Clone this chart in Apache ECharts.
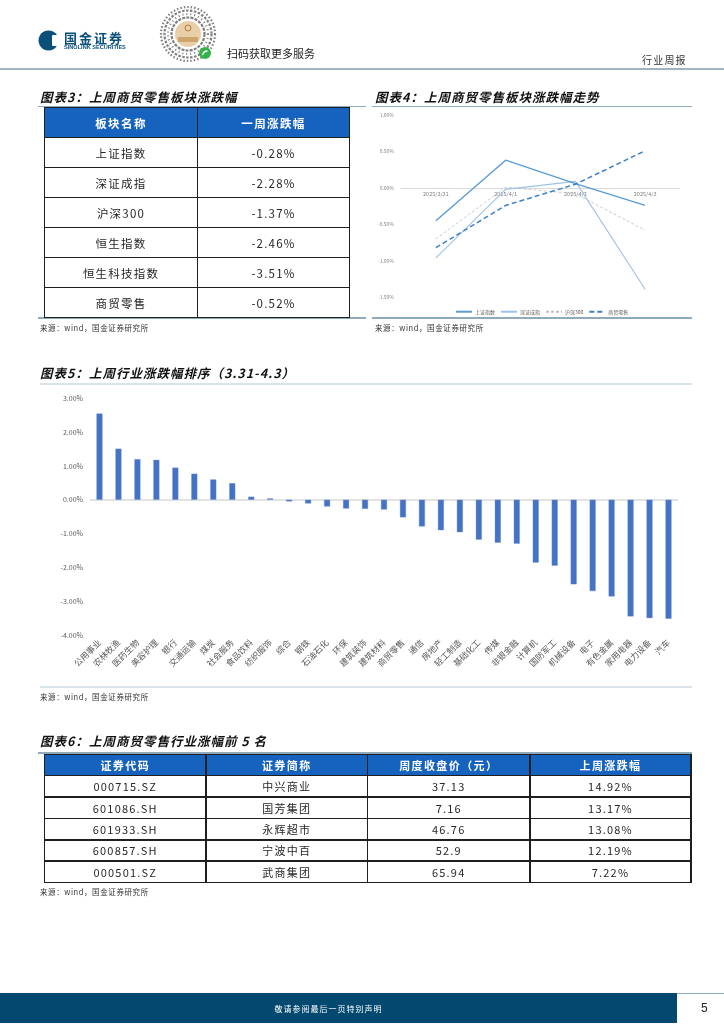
<!DOCTYPE html>
<html>
<head>
<meta charset="utf-8">
<script src="https://cdn.jsdelivr.net/npm/echarts@6/dist/echarts.min.js"></script>
<style>
html,body{margin:0;padding:0;background:#fff;}
#page{position:relative;width:724px;height:1024px;overflow:hidden;background:#fff;font-family:"Noto Sans CJK SC","Noto Sans",sans-serif;}
#main{position:absolute;left:0;top:0;width:724px;height:1024px;}
#overlay{position:absolute;left:0;top:0;width:724px;height:1024px;pointer-events:none;}
.abs{position:absolute;white-space:nowrap;}
.title{font-size:12.5px;font-weight:bold;font-style:italic;color:#111;letter-spacing:1px;}
.src{font-size:7.5px;color:#333;letter-spacing:0.6px;}
.cell{position:absolute;display:flex;align-items:center;justify-content:center;color:#1a1a1a;white-space:nowrap;}
</style>
</head>
<body>
<div id="page">
  <div id="main"></div>
  <div id="overlay"></div>
</div>
<script>
// ---------------- DATA ----------------
const table3Headers = ['板块名称', '一周涨跌幅'];
const table3Names = ['上证指数', '深证成指', '沪深300', '恒生指数', '恒生科技指数', '商贸零售'];
const table3Values = ['-0.28%', '-2.28%', '-1.37%', '-2.46%', '-3.51%', '-0.52%'];

const trendDates = ['2025/3/31', '2025/4/1', '2025/4/2', '2025/4/3'];
const trendSeriesNames = ['上证指数', '深证成指', '沪深300', '商贸零售'];
const trendSH = [-0.45, 0.38, 0.06, -0.24];
const trendSZ = [-0.96, -0.02, 0.09, -1.39];
const trendHS300 = [-0.70, 0.01, -0.08, -0.58];
const trendRetail = [-0.82, -0.24, 0.05, 0.51];

const industries = ['公用事业', '农林牧渔', '医药生物', '美容护理', '银行', '交通运输', '煤炭', '社会服务', '食品饮料', '纺织服饰',
  '综合', '钢铁', '石油石化', '环保', '建筑装饰', '建筑材料', '商贸零售', '通信', '房地产', '轻工制造',
  '基础化工', '传媒', '非银金融', '计算机', '国防军工', '机械设备', '电子', '有色金属', '家用电器', '电力设备', '汽车'];
const industryChange = [2.55, 1.51, 1.20, 1.18, 0.95, 0.77, 0.60, 0.49, 0.09, 0.04,
  -0.05, -0.11, -0.20, -0.26, -0.27, -0.29, -0.52, -0.79, -0.90, -0.96,
  -1.18, -1.27, -1.30, -1.86, -1.95, -2.50, -2.70, -2.86, -3.45, -3.50, -3.52];

const table6Headers = ['证券代码', '证券简称', '周度收盘价（元）', '上周涨跌幅'];
const table6Codes = ['000715.SZ', '601086.SH', '601933.SH', '600857.SH', '000501.SZ'];
const table6Names = ['中兴商业', '国芳集团', '永辉超市', '宁波中百', '武商集团'];
const table6Prices = ['37.13', '7.16', '46.76', '52.9', '65.94'];
const table6Changes = ['14.92%', '13.17%', '13.08%', '12.19%', '7.22%'];

// ---------------- ECHARTS ----------------
const chart = echarts.init(document.getElementById('main'), null, {renderer: 'canvas', width: 724, height: 1024});
const pct = v => v.toFixed(2) + '%';
const zeroOnly = ['transparent', 'transparent', 'transparent', 'transparent', '#d9d9d9', 'transparent', 'transparent', 'transparent'];

// trend grid geometry (layout only)
const g4 = {left: 401, top: 115, width: 279, height: 182.3};
const y4min = -1.5, y4max = 1;
const zeroOffset4 = -(g4.height * (0 - y4min) / (y4max - y4min));

chart.setOption({
  animation: false,
  backgroundColor: 'transparent',
  textStyle: {fontFamily: '"Noto Sans CJK SC","Noto Sans",sans-serif'},
  grid: [
    Object.assign({containLabel: false, outerBoundsMode: 'none'}, g4),
    {left: 90, top: 398.3, width: 588, height: 236.7, containLabel: false, outerBoundsMode: 'none'}
  ],
  legend: {
    data: trendSeriesNames,
    left: 450, top: 303.5,
    itemWidth: 16, itemHeight: 8, itemGap: 5,
    itemStyle: {opacity: 0, color: 'transparent', borderWidth: 0},
    textStyle: {fontSize: 5, color: '#595959', padding: [0, 0, 0, -2]},
    selectedMode: false
  },
  xAxis: [
    {
      gridIndex: 0, type: 'category', data: trendDates, boundaryGap: true,
      position: 'bottom', offset: zeroOffset4,
      axisLine: {show: true, onZero: false, lineStyle: {color: '#d9d9d9', width: 1}},
      axisTick: {show: false},
      axisLabel: {fontSize: 5.5, color: '#7f7f7f', margin: 3, interval: 0},
      splitLine: {show: false}
    },
    {
      gridIndex: 1, type: 'category', data: industries, boundaryGap: true,
      axisLine: {show: false, onZero: false},
      axisTick: {show: false},
      axisLabel: {rotate: 45, interval: 0, fontSize: 8.5, color: '#595959', margin: 6, hideOverlap: false},
      splitLine: {show: false}
    }
  ],
  yAxis: [
    {
      gridIndex: 0, type: 'value', min: y4min, max: y4max, interval: 0.5,
      axisLine: {show: false}, axisTick: {show: false}, splitLine: {show: false},
      axisLabel: {fontSize: 5, color: '#7f7f7f', margin: 7, formatter: pct}
    },
    {
      gridIndex: 1, type: 'value', min: -4, max: 3, interval: 1,
      axisLine: {show: false}, axisTick: {show: false},
      splitLine: {show: true, lineStyle: {color: zeroOnly, width: 1.5}},
      axisLabel: {fontSize: 7, color: '#595959', margin: 7, formatter: pct}
    }
  ],
  series: [
    {name: trendSeriesNames[0], type: 'line', xAxisIndex: 0, yAxisIndex: 0, data: trendSH,
      symbol: 'none', showSymbol: false, lineStyle: {color: '#5b9bd5', width: 1.4, type: 'solid'}, itemStyle: {color: '#5b9bd5'}, z: 4},
    {name: trendSeriesNames[1], type: 'line', xAxisIndex: 0, yAxisIndex: 0, data: trendSZ,
      symbol: 'none', showSymbol: false, lineStyle: {color: '#9dc3e6', width: 1.1, type: 'solid'}, itemStyle: {color: '#9dc3e6'}, z: 3},
    {name: trendSeriesNames[2], type: 'line', xAxisIndex: 0, yAxisIndex: 0, data: trendHS300,
      symbol: 'none', showSymbol: false, lineStyle: {color: '#bfbfbf', width: 0.8, type: [3, 2]}, itemStyle: {color: '#bfbfbf'}, z: 2},
    {name: trendSeriesNames[3], type: 'line', xAxisIndex: 0, yAxisIndex: 0, data: trendRetail,
      symbol: 'none', showSymbol: false, lineStyle: {color: '#3f7fc7', width: 1.5, type: [5, 3]}, itemStyle: {color: '#3f7fc7'}, z: 5},
    {name: '行业涨跌幅', type: 'bar', xAxisIndex: 1, yAxisIndex: 1, data: industryChange,
      barWidth: 6, itemStyle: {color: '#4472c4', borderColor: '#6f90d0', borderWidth: 0.4}}
  ]
});

// ---------------- OVERLAY (page furniture, titles, tables) ----------------
const ov = document.getElementById('overlay');
function el(tag, cls, style, text) {
  const d = document.createElement(tag);
  if (cls) d.className = cls;
  Object.assign(d.style, style);
  if (text !== undefined) d.textContent = text;
  ov.appendChild(d);
  return d;
}
function hline(x1, x2, y, color, w) { el('div', 'abs', {left: x1 + 'px', top: (y - w / 2) + 'px', width: (x2 - x1) + 'px', height: w + 'px', background: color}); }
function vline(x, y1, y2, color, w) { el('div', 'abs', {left: (x - w / 2) + 'px', top: y1 + 'px', width: w + 'px', height: (y2 - y1) + 'px', background: color}); }
function text(x, y, str, cls, extra) {
  return el('div', 'abs ' + (cls || ''), Object.assign({left: x + 'px', top: y + 'px', transform: 'translateY(-50%)', lineHeight: '1'}, extra || {}), str);
}

// header
const svgNS = 'http://www.w3.org/2000/svg';
const hdr = document.createElementNS(svgNS, 'svg');
hdr.setAttribute('width', '724'); hdr.setAttribute('height', '70');
hdr.style.position = 'absolute'; hdr.style.left = '0'; hdr.style.top = '0';
let qr = '';
const rings = [27, 23.5, 20, 16.5];
rings.forEach((r, i) => {
  qr += `<circle cx="188" cy="34" r="${r}" fill="none" stroke="#555" stroke-width="2.2" stroke-dasharray="${[1.5, 2.5, 1, 3][i]} ${[2, 1.5, 3, 1.2][i]}" opacity="0.75"/>`;
});
hdr.innerHTML =
  `<path d="M48.5 30.5 a10 10 0 1 0 0.01 0 Z" fill="#0b4f7b"/>` +
  `<rect x="52" y="35" width="7" height="11" rx="1" fill="#fff"/>` +
  qr +
  `<circle cx="188" cy="34" r="13" fill="#e9cfa8"/>` +
  `<rect x="178" y="37" width="20" height="5" fill="#c79a5c" opacity="0.8"/>` +
  `<circle cx="188" cy="28" r="3" fill="none" stroke="#b07a3a" stroke-width="1"/>` +
  `<circle cx="205" cy="53" r="6" fill="#33b24a"/>` +
  `<path d="M202.5 55 q1 -4 5 -4" stroke="#fff" stroke-width="1.3" fill="none"/>`;
ov.appendChild(hdr);
text(64, 37, '国金证券', '', {fontSize: '13px', fontWeight: 'bold', color: '#0b4f7b', letterSpacing: '2px'});
text(64, 47.5, 'SINOLINK SECURITIES', '', {fontSize: '5.6px', fontWeight: 'bold', color: '#0b4f7b', fontFamily: '"Liberation Sans",Arial,sans-serif'});
text(227, 53, '扫码获取更多服务', '', {fontSize: '11px', color: '#222'});
text(642, 60, '行业周报', '', {fontSize: '10px', color: '#333', letterSpacing: '1.2px'});
hline(0, 724, 69, '#9fb3c2', 1.5);

// titles
text(40, 97, '图表3：上周商贸零售板块涨跌幅', 'title');
text(375, 97, '图表4：上周商贸零售板块涨跌幅走势', 'title');
text(40, 373, '图表5：上周行业涨跌幅排序（3.31-4.3）', 'title');
text(40, 741, '图表6：上周商贸零售行业涨幅前 5 名', 'title');

// frame lines
hline(38, 366, 106.5, '#8fa9bd', 1.3);
hline(38, 366, 318, '#8fa9bd', 1.3);
hline(372, 692, 106.5, '#8fa9bd', 1.3);
hline(372, 692, 318, '#8fa9bd', 1.3);
hline(40, 692, 384, '#d8e3ea', 2.5);
hline(40, 692, 687, '#d8e3ea', 2.5);
hline(38, 692, 753, '#8fa9bd', 1.3);

// sources
text(40, 327.5, '来源：wind，国金证券研究所', 'src');
text(375, 327.5, '来源：wind，国金证券研究所', 'src');
text(40, 697, '来源：wind，国金证券研究所', 'src');
text(40, 892, '来源：wind，国金证券研究所', 'src');

// generic table builder
function buildTable(colX, rowY, headers, columns, headerBg, fontSize) {
  const left = colX[0], right = colX[colX.length - 1], top = rowY[0], bottom = rowY[rowY.length - 1];
  el('div', 'abs', {left: left + 'px', top: top + 'px', width: (right - left) + 'px', height: (rowY[1] - top) + 'px', background: headerBg});
  for (let c = 0; c < headers.length; c++) {
    el('div', 'cell', {left: colX[c] + 'px', top: rowY[0] + 'px', width: (colX[c + 1] - colX[c]) + 'px', height: (rowY[1] - rowY[0]) + 'px',
      color: '#fff', fontWeight: 'bold', fontSize: fontSize + 'px', letterSpacing: '1.4px'}, headers[c]);
  }
  for (let r = 0; r < columns[0].length; r++) {
    for (let c = 0; c < columns.length; c++) {
      el('div', 'cell', {left: colX[c] + 'px', top: rowY[r + 1] + 'px', width: (colX[c + 1] - colX[c]) + 'px', height: (rowY[r + 2] - rowY[r + 1]) + 'px',
        fontSize: fontSize + 'px', letterSpacing: '1.2px', color: '#262626'}, columns[c][r]);
    }
  }
  rowY.forEach(y => hline(left - 0.75, right + 0.75, y, '#1f1f1f', 1.5));
  colX.forEach(x => vline(x, top, bottom, '#1f1f1f', 1.5));
}

buildTable([44.5, 197.5, 349.5], [107.5, 137.5, 167.5, 197.5, 227.5, 257.5, 287.5, 317.5],
  table3Headers, [table3Names, table3Values], '#1662bf', 11.5);

buildTable([44.5, 206, 367.5, 530, 691], [754.5, 775.7, 797, 818.3, 839.8, 861.2, 882.5],
  table6Headers, [table6Codes, table6Names, table6Prices, table6Changes], '#1662bf', 11);

// footer
el('div', 'abs', {left: '0px', top: '993px', width: '677px', height: '30px', background: '#02486f'});
hline(677, 724, 993.5, '#8fa9bd', 1);
el('div', 'abs', {left: '0px', top: '993px', width: '677px', height: '30px', display: 'flex', alignItems: 'center', justifyContent: 'center',
  color: '#fff', fontSize: '8px', letterSpacing: '1px', paddingRight: '20px', boxSizing: 'border-box'}, '敬请参阅最后一页特别声明');
text(701, 1008, '5', '', {fontSize: '12px', color: '#222', fontFamily: '"Liberation Sans",Arial,sans-serif'});
</script>
</body>
</html>
